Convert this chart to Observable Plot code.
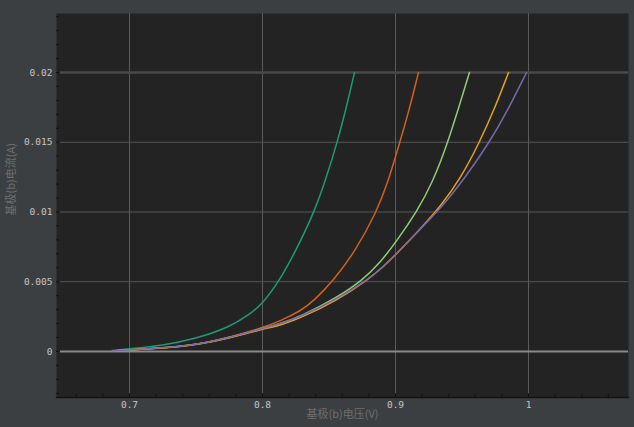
<!DOCTYPE html>
<html>
<head>
<meta charset="utf-8">
<script src="https://cdn.jsdelivr.net/npm/d3@7"></script>
<script src="https://cdn.jsdelivr.net/npm/@observablehq/plot@0.6"></script>
<style>
  html, body { margin: 0; padding: 0; background: #3c3f41; }
  #chart { width: 634px; height: 427px; }
</style>
</head>
<body>
<div id="chart"></div>
<script>
// ---- data ----
const seriesNames = ["s1", "s2", "s3", "s4", "s5"];
const seriesColors = ["#1b9b77", "#d2601c", "#8fcd78", "#e3a01e", "#7a68a8"];

const s1V = [0.6872, 0.70, 0.7248, 0.7496, 0.7744, 0.791, 0.80, 0.812, 0.8256, 0.8398, 0.8481, 0.8564, 0.8632, 0.8692];
const s1I = [0.00007, 0.00019, 0.00042, 0.00092, 0.0017, 0.0027, 0.00344, 0.00495, 0.0073, 0.0102, 0.0125, 0.01505, 0.01756, 0.0200];

const s2V = [0.6872, 0.70, 0.7248, 0.7496, 0.7744, 0.80, 0.8135, 0.8286, 0.8383, 0.8534, 0.8699, 0.8857, 0.894, 0.9023, 0.9098, 0.9173];
const s2I = [0.00004, 0.00012, 0.00024, 0.00048, 0.001, 0.0017, 0.0022, 0.0029, 0.0036, 0.0051, 0.0072, 0.0100, 0.01204, 0.0147, 0.01713, 0.0200];

const s3V = [0.6872, 0.70, 0.7248, 0.7496, 0.7744, 0.80, 0.8135, 0.8286, 0.8549, 0.8752, 0.8887, 0.9008, 0.9165, 0.9278, 0.9398, 0.9556];
const s3I = [0.00004, 0.00012, 0.00024, 0.00047, 0.00097, 0.00165, 0.002, 0.0025, 0.0038, 0.0051, 0.0064, 0.0079, 0.0101, 0.0121, 0.01505, 0.0200];

const s4V = [0.6872, 0.70, 0.7248, 0.7496, 0.7744, 0.80, 0.8135, 0.8286, 0.855, 0.88, 0.89, 0.9008, 0.9188, 0.9338, 0.9489, 0.9632, 0.9745, 0.985];
const s4I = [0.00003, 0.00011, 0.00022, 0.00045, 0.00094, 0.0016, 0.00188, 0.0024, 0.0036, 0.0052, 0.006, 0.0070, 0.0088, 0.0104, 0.0124, 0.0150, 0.0174, 0.0200];

const s5V = [0.6872, 0.70, 0.7248, 0.7496, 0.7744, 0.80, 0.8135, 0.8286, 0.855, 0.88, 0.89, 0.9008, 0.9188, 0.9353, 0.9526, 0.9707, 0.985, 0.9985];
const s5I = [0.00004, 0.00012, 0.00024, 0.00047, 0.00097, 0.00165, 0.002, 0.0025, 0.0037, 0.0052, 0.006, 0.0070, 0.0088, 0.0104, 0.0125, 0.0150, 0.0174, 0.0200];

const xTicks = [0.7, 0.8, 0.9, 1];
const xTickLabels = ["0.7", "0.8", "0.9", "1"];
const yTicks = [0, 0.005, 0.01, 0.015, 0.02];
const yTickLabels = ["0", "0.005", "0.01", "0.015", "0.02"];
const xLabel = "基极(b)电压(V)";
const yLabel = "基极(b)电流(A)";

// ---- build table ----
const allV = [s1V, s2V, s3V, s4V, s5V];
const allI = [s1I, s2I, s3I, s4I, s5I];
const rows = [];
seriesNames.forEach((name, k) => {
  allV[k].forEach((v, j) => rows.push({ s: name, v, i: allI[k][j] }));
});

const xMinor = d3.range(33, 54).map(k => k * 0.02);
const yMinor = d3.range(-3, 25).map(k => k / 1000);

const mono = "DejaVu Sans Mono, monospace";
const cjk = "Noto Sans CJK SC, sans-serif";

const chart = Plot.plot({
  width: 634,
  height: 427,
  marginLeft: 56,
  marginRight: 6,
  marginTop: 13,
  marginBottom: 30,
  style: { background: "#3c3f41", overflow: "visible" },
  x: { domain: [0.6451, 1.0752], label: null },
  y: { domain: [-0.0033, 0.02423], label: null },
  color: { domain: seriesNames, range: seriesColors },
  marks: [
    Plot.frame({ fill: "#232323" }),
    Plot.ruleX(xTicks, { stroke: "#5c5c5c", strokeWidth: 1, insetBottom: 4 }),
    Plot.ruleY([0.005, 0.01, 0.015], { stroke: "#575757", strokeWidth: 1, insetLeft: 4 }),
    Plot.ruleY([0.02], { stroke: "#4a4a4a", strokeWidth: 2.5, insetLeft: 4 }),
    Plot.ruleY([0], { stroke: "#8a8a8a", strokeWidth: 2, insetLeft: 4 }),
    Plot.line(rows, { x: "v", y: "i", z: "s", stroke: "s", curve: "basis", strokeWidth: 1.5 }),
    Plot.frame({ anchor: "bottom", stroke: "#141414", strokeWidth: 1.5 }),
    Plot.axisX(xMinor, { tickSize: -3, tickFormat: () => "", stroke: "#111", label: null }),
    Plot.axisY(yMinor, { tickSize: -3, tickFormat: () => "", stroke: "#111", label: null }),
    Plot.axisX(xTicks, {
      tickSize: 0, tickPadding: 4, label: null,
      tickFormat: (d, i) => xTickLabels[i],
      fill: "#c4c4c4", fontFamily: mono, fontSize: 9.5
    }),
    Plot.axisY(yTicks, {
      tickSize: 0, tickPadding: 4, label: null,
      tickFormat: (d, i) => yTickLabels[i],
      fill: "#c4c4c4", fontFamily: mono, fontSize: 9.5
    }),
    Plot.text([xLabel], {
      frameAnchor: "bottom", dy: 20, text: d => d,
      fill: "#6e6e6e", fontFamily: cjk, fontSize: 11
    }),
    Plot.text([yLabel], {
      frameAnchor: "left", dx: -45, dy: 10, rotate: -90, text: d => d,
      fill: "#6e6e6e", fontFamily: cjk, fontSize: 11
    })
  ]
});
document.getElementById("chart").appendChild(chart);
</script>
</body>
</html>
